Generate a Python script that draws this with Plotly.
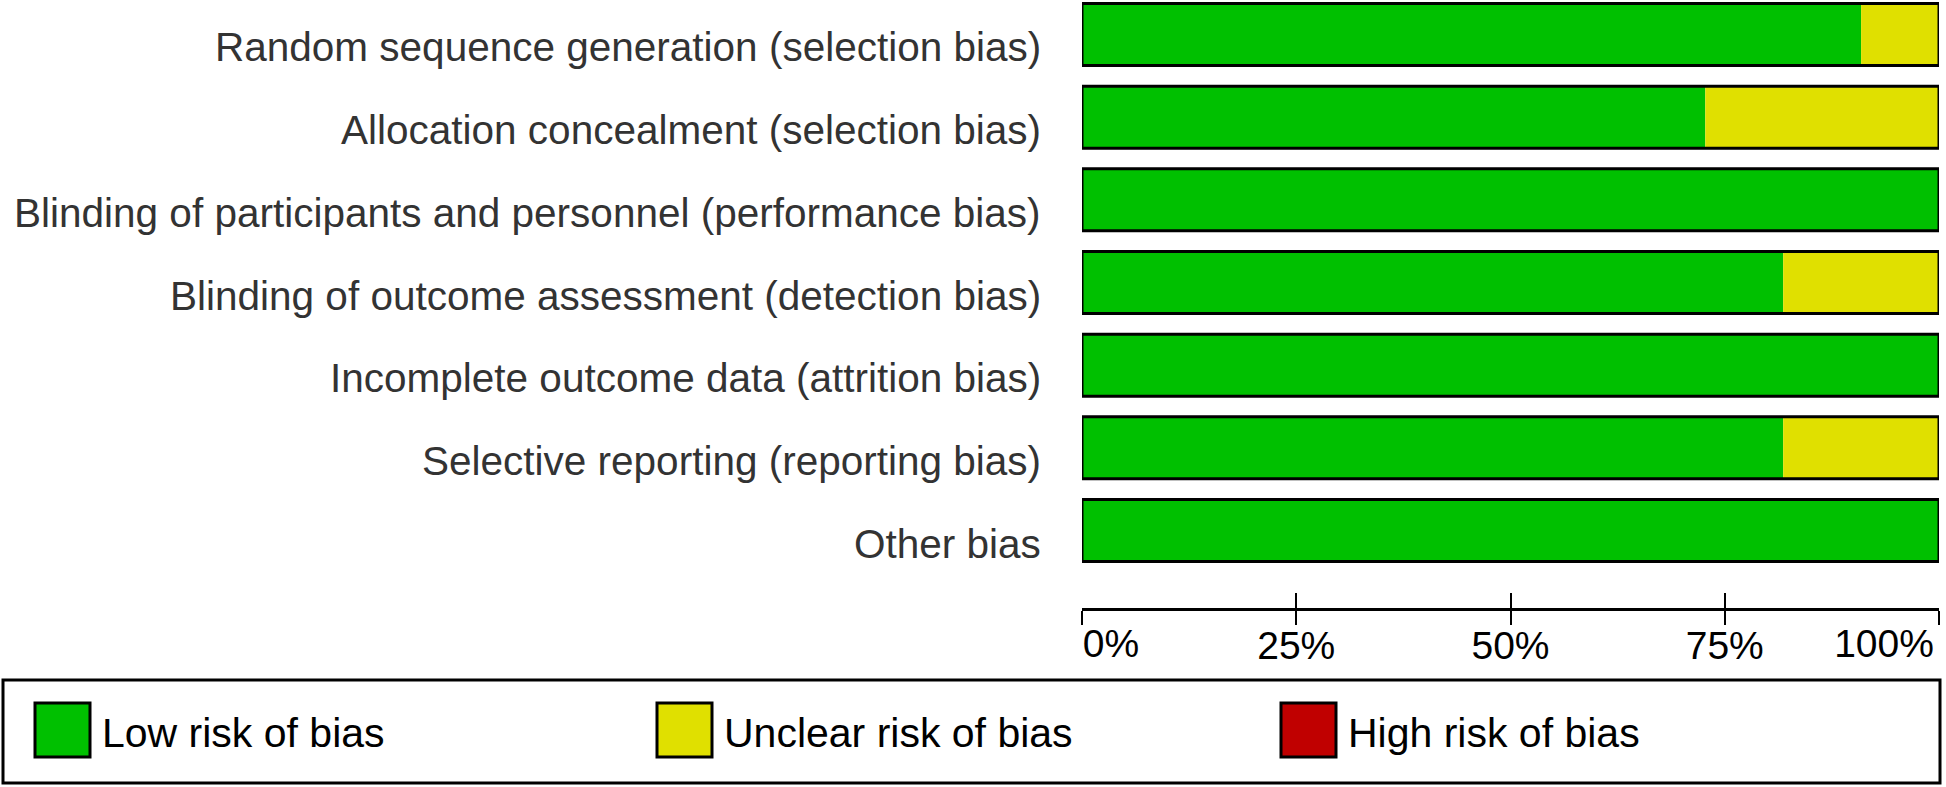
import plotly.graph_objects as go

# datos: 11 estudios, numero de estudios por nivel de riesgo en cada dominio
dominios = [
    "Random sequence generation (selection bias)",
    "Allocation concealment (selection bias)",
    "Blinding of participants and personnel (performance bias)",
    "Blinding of outcome assessment (detection bias)",
    "Incomplete outcome data (attrition bias)",
    "Selective reporting (reporting bias)",
    "Other bias",
]
n_estudios = 11
bajo = [10, 8, 11, 9, 11, 9, 11]
incierto = [1, 3, 0, 2, 0, 2, 0]
alto = [0, 0, 0, 0, 0, 0, 0]

tick_vals = [0, 25, 50, 75, 100]
tick_text = ["0%", "25%", "50%", "75%", "100%"]

niveles = ["Low risk of bias", "Unclear risk of bias", "High risk of bias"]
colores = ["#00C000", "#E0E000", "#C00000"]

pct_bajo = [v / n_estudios * 100 for v in bajo]
pct_inc = [v / n_estudios * 100 for v in incierto]
pct_alto = [v / n_estudios * 100 for v in alto]
pct_total = [a + b + c for a, b, c in zip(pct_bajo, pct_inc, pct_alto)]

W, H = 1946, 787
L, R, T, B = 1082, 7, 0, 179  # margenes en px
ancho_px = W - L - R
alto_px = H - T - B


def px2x(px):
    return (px - L) / ancho_px


def py2y(py):
    return (H - B - py) / alto_px


fig = go.Figure()
fig.add_trace(go.Bar(y=dominios, x=pct_bajo, base=0, orientation="h", width=0.75,
                     marker=dict(color=colores[0], line=dict(width=0)), name=niveles[0]))
fig.add_trace(go.Bar(y=dominios, x=pct_inc, base=pct_bajo, orientation="h", width=0.75,
                     marker=dict(color=colores[1], line=dict(width=0)), name=niveles[1]))
fig.add_trace(go.Bar(y=dominios, x=pct_alto, base=[a + b for a, b in zip(pct_bajo, pct_inc)],
                     orientation="h", width=0.75,
                     marker=dict(color=colores[2], line=dict(width=0)), name=niveles[2]))
# contorno negro de cada barra completa
fig.add_trace(go.Bar(y=dominios, x=pct_total, base=0, orientation="h", width=0.75, xaxis="x2",
                     marker=dict(color="rgba(0,0,0,0)", line=dict(color="black", width=3)),
                     hoverinfo="skip"))
# trazas vacias para los ejes de las etiquetas 0% y 100%
fig.add_trace(go.Scatter(x=[None], y=[None], xaxis="x3", hoverinfo="skip"))
fig.add_trace(go.Scatter(x=[None], y=[None], xaxis="x4", hoverinfo="skip"))

fuente = "Liberation Sans, Arial, sans-serif"
eje_comun = dict(range=[0, 100], fixedrange=True, showgrid=False, zeroline=False)
ticks_abajo = dict(ticks="outside", ticklen=14, tickwidth=2, ticklabelstandoff=-13,
                   tickfont=dict(size=39, color="black"))

fig.update_layout(
    width=W, height=H,
    margin=dict(l=L, r=R, t=T, b=B),
    barmode="overlay",
    showlegend=False,
    plot_bgcolor="white", paper_bgcolor="white",
    font=dict(family=fuente, size=39, color="black"),
    xaxis=dict(**eje_comun, **ticks_abajo, tickmode="array", tickvals=tick_vals,
               ticktext=["", tick_text[1], tick_text[2], tick_text[3], ""],
               tickcolor="black", showline=True, linecolor="black", linewidth=3),
    xaxis2=dict(**eje_comun, overlaying="x", anchor="y", side="bottom",
                tickmode="array", tickvals=tick_vals, ticks="inside", ticklen=15,
                tickwidth=2, tickcolor="black", showticklabels=False, showline=False),
    # 0% alineado a la izquierda y 100% a la derecha de su marca
    xaxis3=dict(**eje_comun, **ticks_abajo, overlaying="x", anchor="y", side="bottom",
                tickmode="array", tickvals=[0], ticktext=[tick_text[0]],
                tickcolor="rgba(0,0,0,0)", ticklabelshift=29, showline=False),
    xaxis4=dict(**eje_comun, **ticks_abajo, overlaying="x", anchor="y", side="bottom",
                tickmode="array", tickvals=[100], ticktext=[tick_text[4]],
                tickcolor="rgba(0,0,0,0)", ticklabelshift=-55, showline=False),
    yaxis=dict(range=[6.937, -0.417], fixedrange=True, showticklabels=False,
               showgrid=False, zeroline=False, showline=False, ticks=""),
)

# etiquetas de los dominios
for d in dominios:
    fig.add_annotation(x=0, xref="paper", y=d, yref="y", text=d, showarrow=False,
                       xanchor="right", yanchor="middle", xshift=-39, yshift=-13,
                       font=dict(size=40.5, color="#333333"))

# leyenda dibujada a mano
fig.add_shape(type="rect", xref="paper", yref="paper",
              x0=px2x(3), x1=px2x(1940), y0=py2y(680), y1=py2y(783),
              line=dict(color="black", width=3), fillcolor="rgba(0,0,0,0)")
cuadros_x = [35, 657, 1281]
for nivel, color, cx in zip(niveles, colores, cuadros_x):
    fig.add_shape(type="rect", xref="paper", yref="paper",
                  x0=px2x(cx), x1=px2x(cx + 55), y0=py2y(703), y1=py2y(757),
                  line=dict(color="black", width=3), fillcolor=color)
    fig.add_annotation(x=px2x(cx + 65), xref="paper", y=py2y(733), yref="paper",
                       text=nivel, showarrow=False, xanchor="left", yanchor="middle",
                       font=dict(size=41, color="black"))

# quitar el margen por defecto del body para que la figura empiece en (0, 0)
fig.write_html("out.html", config={"displayModeBar": False},
               post_script="document.body.style.margin='0';document.body.style.overflow='hidden';")
